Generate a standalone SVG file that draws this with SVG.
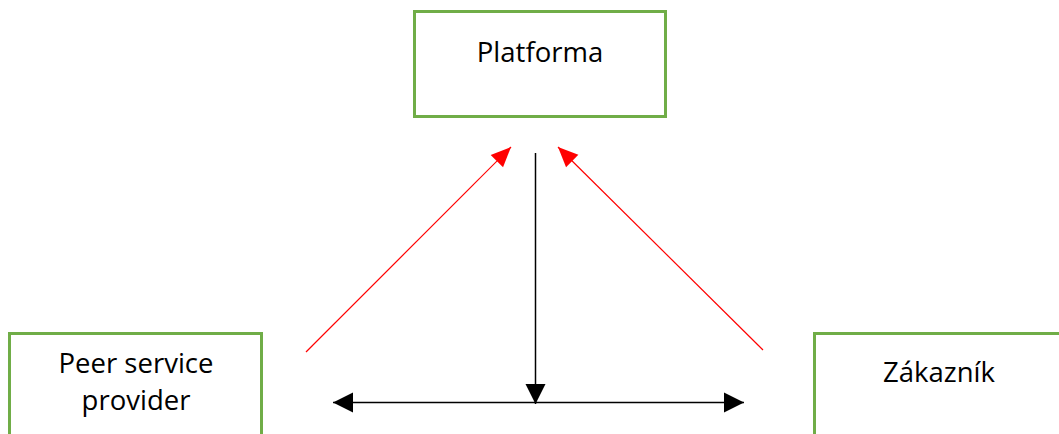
<svg xmlns="http://www.w3.org/2000/svg" width="1059" height="434" viewBox="0 0 1059 434">
<style>
.box{fill:#fff;stroke:#70AD47;stroke-width:3}
.t{font-family:"Open Sans","Noto Sans",sans-serif;font-size:27.5px;fill:#000;text-anchor:middle}
.red{stroke:#FF0000;stroke-width:1.2;fill:none}
.blk{stroke:#000;stroke-width:1.5;fill:none}
</style>
<defs>
<marker id="hr" markerUnits="userSpaceOnUse" markerWidth="20" markerHeight="20" viewBox="0 0 16 14" refX="16" refY="7" orient="auto" overflow="visible">
<path d="M0,0 L16,7 L0,14 Z" fill="#FF0000"/>
</marker>
<marker id="hb" markerUnits="userSpaceOnUse" markerWidth="20" markerHeight="20" viewBox="0 0 17 17" refX="17" refY="8.5" orient="auto" overflow="visible">
<path d="M0,0 L17,8.5 L0,17 Z" fill="#000"/>
</marker>
<marker id="hbs" markerUnits="userSpaceOnUse" markerWidth="20" markerHeight="20" viewBox="0 0 17 17" refX="0" refY="8.5" orient="auto" overflow="visible">
<path d="M17,0 L0,8.5 L17,17 Z" fill="#000"/>
</marker>
</defs>
<rect width="1059" height="434" fill="#fff"/>
<g id="platforma">
<rect class="box" x="414.5" y="11.5" width="251" height="105"/>
<text class="t" x="540" y="62">Platforma</text>
</g>
<g id="provider">
<rect class="box" x="9.5" y="333.5" width="252" height="120"/>
<text class="t" x="136" y="373">Peer service</text>
<text class="t" x="136" y="410">provider</text>
</g>
<g id="zakaznik">
<rect class="box" x="814.5" y="333.5" width="260" height="120"/>
<text class="t" x="939" y="382">Zákazník</text>
</g>
<g id="connectors">
<line class="red" x1="306" y1="352" x2="511" y2="147" marker-end="url(#hr)"/>
<line class="red" x1="763" y1="350" x2="558" y2="147" marker-end="url(#hr)"/>
<line class="blk" x1="535.5" y1="153" x2="535.5" y2="404" marker-end="url(#hb)"/>
<line class="blk" x1="333" y1="402.5" x2="744" y2="402.5" marker-start="url(#hbs)" marker-end="url(#hb)"/>
</g>
</svg>
